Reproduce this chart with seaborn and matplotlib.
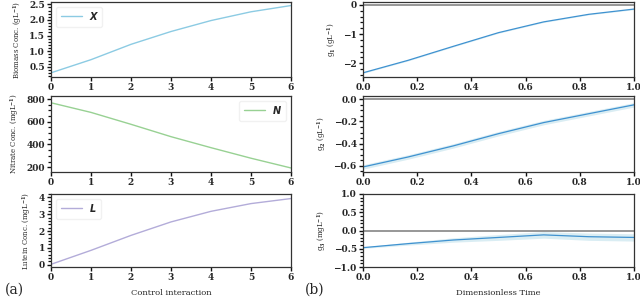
import numpy as np
import pandas as pd
import matplotlib
matplotlib.use("Agg")
import matplotlib.pyplot as plt
from matplotlib.ticker import AutoMinorLocator, MultipleLocator, NullLocator
import seaborn as sns

# ---- data ----
steps = [0, 1, 2, 3, 4, 5, 6]
biomass = [0.31, 0.73, 1.22, 1.63, 1.98, 2.26, 2.46]
nitrate = [768, 683, 578, 469, 372, 279, 193]
lutein = [0.02, 0.85, 1.74, 2.54, 3.17, 3.63, 3.93]

tau = [0.0, 1/6, 2/6, 3/6, 4/6, 5/6, 1.0]
g1 = [-2.33, -1.90, -1.42, -0.95, -0.58, -0.32, -0.14]
g1_sd = [0.02, 0.02, 0.02, 0.02, 0.02, 0.02, 0.02]
g2 = [-0.61, -0.52, -0.42, -0.31, -0.21, -0.13, -0.05]
g2_sd = [0.02, 0.02, 0.02, 0.02, 0.02, 0.02, 0.02]
g3 = [-0.47, -0.36, -0.26, -0.19, -0.12, -0.17, -0.19]
g3_sd = [0.02, 0.04, 0.06, 0.08, 0.09, 0.10, 0.10]

left_labels = ["Biomass Conc. (gL$^{-1}$)", "Nitrate Conc. (mgL$^{-1}$)", "Lutein Conc. (mgL$^{-1}$)"]
right_labels = ["g$_1$ (gL$^{-1}$)", "g$_2$ (gL$^{-1}$)", "g$_3$ (mgL$^{-1}$)"]
legend_names = ["X", "N", "L"]

sns.set_style("ticks")
plt.rcParams['font.family'] = ['DejaVu Serif']
plt.rcParams['font.weight'] = 'bold'
plt.rcParams['mathtext.fontset'] = 'dejavuserif'

fig = plt.figure(figsize=(6.4, 2.98), dpi=100)

rows = [(0.742, 0.993), (0.423, 0.678), (0.104, 0.349)]
lx0, lx1 = 51/640, 291/640
rx0, rx1 = 363/640, 634/640

left_colors = ["#8ccbe3", "#98d193", "#b3acd9"]
left_data = [biomass, nitrate, lutein]
left_ylim = [(0.18, 2.57), (158, 828), (-0.14, 4.2)]
left_legloc = ["upper left", "upper right", "upper left"]
left_major = [0.5, 200, 1]
left_minor = [5, 4, 5]

right_data = [(g1, g1_sd), (g2, g2_sd), (g3, g3_sd)]
right_ylim = [(-2.47, 0.1), (-0.655, 0.03), (-1.0, 1.0)]
right_major = [1, 0.2, 0.5]
right_minor = [5, 4, 5]

label_font = dict(family='DejaVu Serif', weight='normal', size=5.0)
xlabel_font = dict(family='DejaVu Serif', weight='normal', size=6.0)

def style_axes(ax, major, nminor):
    for s in ax.spines.values():
        s.set_color("#333333")
        s.set_linewidth(0.9)
        s.set_visible(True)
    ax.yaxis.set_major_locator(MultipleLocator(major))
    ax.yaxis.set_minor_locator(AutoMinorLocator(nminor))
    ax.xaxis.set_minor_locator(NullLocator())
    ax.tick_params(axis='both', which='major', direction='out', length=3, width=1.0,
                   pad=1.5, labelsize=6.5, color="#111111", left=True, bottom=True)
    ax.tick_params(axis='y', which='minor', left=True, direction='out', length=2,
                   width=0.9, color="#111111")

for i, (y0, y1) in enumerate(rows):
    ax = fig.add_axes([lx0, y0, lx1 - lx0, y1 - y0])
    df = pd.DataFrame({"step": steps, "val": left_data[i]})
    sns.lineplot(data=df, x="step", y="val", ax=ax, color=left_colors[i], lw=1.0,
                 label=legend_names[i])
    ax.set_xlim(0, 6)
    ax.set_ylim(*left_ylim[i])
    ax.set_xticks(steps)
    ax.set_ylabel(left_labels[i], fontdict=label_font, labelpad=3)
    ax.set_xlabel("Control interaction" if i == 2 else "", fontdict=xlabel_font, labelpad=5)
    ax.legend(loc=left_legloc[i], prop=dict(family='DejaVu Sans', weight='bold', style='italic', size=7),
              frameon=True, fancybox=True, framealpha=0.8, edgecolor="#eeeeee",
              handlelength=2.2, borderpad=0.5)
    style_axes(ax, left_major[i], left_minor[i])

for i, (y0, y1) in enumerate(rows):
    ax = fig.add_axes([rx0, y0, rx1 - rx0, y1 - y0])
    vals, sd = right_data[i]
    df = pd.DataFrame({"t": tau, "g": vals})
    lo = np.array(vals) - np.array(sd)
    hi = np.array(vals) + np.array(sd)
    ax.fill_between(tau, lo, hi, color="#add8e6", alpha=0.45, lw=0)
    ax.axhline(0, color="#7a7a7a", lw=1.1)
    sns.lineplot(data=df, x="t", y="g", ax=ax, color="#3f92d0", lw=0.9)
    ax.set_xlim(0, 1)
    ax.set_ylim(*right_ylim[i])
    ax.xaxis.set_major_locator(MultipleLocator(0.2))
    ax.set_ylabel(right_labels[i], fontdict=label_font, labelpad=3)
    ax.set_xlabel("Dimensionless Time" if i == 2 else "", fontdict=xlabel_font, labelpad=5)
    style_axes(ax, right_major[i], right_minor[i])

fig.text(5/640, 1 - 290/298, "(a)", fontsize=10, family='DejaVu Serif', weight='normal',
         va='center', ha='left')
fig.text(305/640, 1 - 290/298, "(b)", fontsize=10, family='DejaVu Serif', weight='normal',
         va='center', ha='left')

fig.savefig("out.png", dpi=100)
